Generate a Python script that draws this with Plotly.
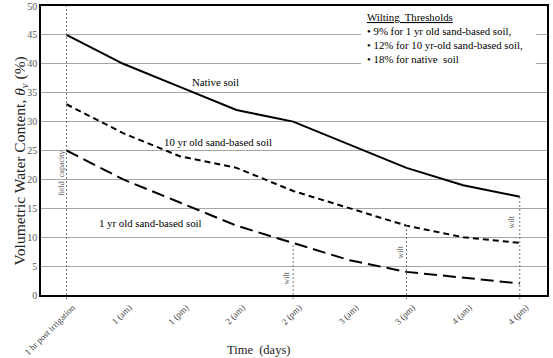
import plotly.graph_objects as go

categories = ["1 hr post irrigation", "1 (am)", "1 (pm)", "2 (am)", "2 (pm)",
              "3 (am)", "3 (pm)", "4 (am)", "4 (pm)"]
native_soil = [45, 40, 36, 32, 30, 26, 22, 19, 17]
sand_10yr = [33, 28, 24, 22, 18, 15, 12, 10, 9]
sand_1yr = [25, 20, 16, 12, 9, 6, 4, 3, 2]
y_ticks = [0, 5, 10, 15, 20, 25, 30, 35, 40, 45, 50]

FONT = "Liberation Serif"
xs = list(range(len(categories)))

fig = go.Figure()
fig.add_trace(go.Scatter(x=xs, y=native_soil, mode="lines",
                         line=dict(color="black", width=2), name="Native soil"))
fig.add_trace(go.Scatter(x=xs, y=sand_10yr, mode="lines",
                         line=dict(color="black", width=2, dash="6px,4px"),
                         name="10 yr old sand-based soil"))
fig.add_trace(go.Scatter(x=xs, y=sand_1yr, mode="lines",
                         line=dict(color="black", width=2, dash="13px,6px"),
                         name="1 yr old sand-based soil"))

dot = dict(color="#777777", width=1, dash="2px,2px")
# field capacity line
fig.add_shape(type="line", xref="x", yref="y", x0=0, x1=0, y0=0, y1=50, line=dot)
fig.add_shape(type="line", xref="x", yref="paper", x0=0, x1=0, y0=-0.015, y1=0, line=dot)
# wilt lines
wilt_pts = [(4, sand_1yr[4]), (6, sand_10yr[6]), (8, native_soil[8])]
for xi, yv in wilt_pts:
    fig.add_shape(type="line", xref="x", yref="y", x0=xi, x1=xi, y0=0, y1=yv, line=dot)
    fig.add_shape(type="line", xref="x", yref="paper", x0=xi, x1=xi, y0=-0.015, y1=0,
                  line=dot)

# wilting thresholds box
fig.add_shape(type="rect", xref="x", yref="y", x0=5.2, x1=8.28, y0=38.8, y1=49.8,
              fillcolor="white", line=dict(width=0), layer="above")
fig.add_annotation(xref="x", yref="y", x=5.27, y=49.5, xanchor="left", yanchor="top",
                   align="left", showarrow=False,
                   text="<u>Wilting  Thresholds</u><br>• 9% for 1 yr old sand-based soil,"
                        "<br>• 12% for 10 yr-old sand-based soil,<br>• 18% for native  soil",
                   font=dict(family=FONT, size=10.8, color="black"))

labels = [("Native soil", 2.63, 36.85), ("10 yr old sand-based soil", 2.68, 26.5),
          ("1 yr old sand-based soil", 1.48, 12.5)]
for t, xx, yy in labels:
    fig.add_annotation(x=xx, y=yy, text=t, showarrow=False,
                       font=dict(family=FONT, size=10.8, color="black"))

fig.add_annotation(x=-0.1, y=21.1, text="field  capacity", textangle=-90, showarrow=False,
                   font=dict(family=FONT, size=8, color="#666666"))
for (xi, yv), dx, yy in zip(wilt_pts, [-0.11, -0.1, -0.15], [3.0, 7.5, 12.6]):
    fig.add_annotation(x=xi + dx, y=yy, text="wilt", textangle=-90, showarrow=False,
                       font=dict(family=FONT, size=8, color="#666666"))

# axis titles
fig.add_annotation(xref="paper", yref="paper", x=0.429, y=-0.19, text="Time  (days)",
                   xanchor="center", yanchor="middle",
                   showarrow=False, font=dict(family=FONT, size=12.5, color="#222222"))
fig.add_annotation(xref="paper", yref="paper", x=-0.04, y=0.465, textangle=-90,
                   xanchor="center", yanchor="middle",
                   text="Volumetric Water Content, <i>θ<sub>v</sub></i> (%)",
                   showarrow=False, font=dict(family=FONT, size=15.5, color="#222222"))

fig.update_layout(
    width=553, height=358,
    margin=dict(l=41, r=6, t=6, b=63, autoexpand=False),
    paper_bgcolor="white", plot_bgcolor="white",
    showlegend=False,
    font=dict(family=FONT),
    xaxis=dict(range=[-0.45, 8.48], tickvals=xs, ticktext=categories, tickangle=-45,
               showgrid=False, zeroline=False, showline=True, mirror=True,
               linecolor="black", linewidth=1.5, ticks="", automargin=False,
               ticklabelstandoff=2, ticklabelshift=6,
               tickfont=dict(family=FONT, size=9, color="#444444")),
    yaxis=dict(range=[0, 50], tickvals=y_ticks, showgrid=True, gridcolor="#a6a6a6",
               gridwidth=1.3, zeroline=False, showline=True, mirror=True,
               linecolor="black", linewidth=1.5, ticks="", automargin=False,
               tickfont=dict(family=FONT, size=10, color="#595959")),
)

fig.write_html("out.html", config={"displayModeBar": False},
               post_script="document.body.style.margin='0';")
